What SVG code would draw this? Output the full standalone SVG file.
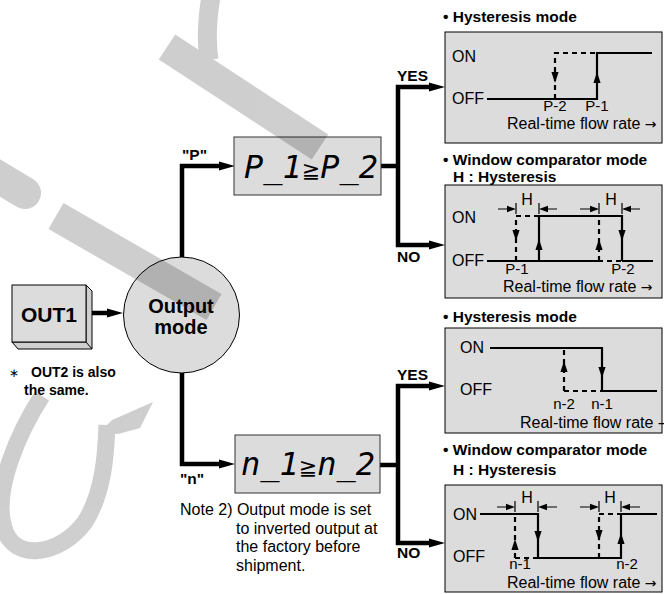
<svg xmlns="http://www.w3.org/2000/svg" width="664" height="594" viewBox="0 0 664 594">
<style>
text { font-family: "Liberation Sans", Arial, sans-serif; fill:#000; }
.b { font-weight: bold; }
.t15 { font-size: 16px; }
.lab { font-size: 15px; }
.tt { font-size: 15.5px; font-weight: bold; }
.ar { font-family: "DejaVu Sans", sans-serif; font-size: 14px; }
.conn { stroke:#000; stroke-width:4.5; fill:none; stroke-linejoin:miter; }
.box { fill:#dcdcdc; stroke:#000; stroke-width:1; }
.sig { stroke:#000; stroke-width:2.2; fill:none; }
.dash { stroke:#000; stroke-width:2.2; stroke-dasharray:5 4; fill:none; }
.dim { stroke:#000; stroke-width:1.2; fill:none; }
.seg { font-family: "DejaVu Sans Mono", monospace; font-style: italic; font-size: 32px; }
.ge { font-family: "DejaVu Sans", sans-serif; font-style: normal; font-size: 22px; }
.wm { stroke:#000; fill:none; }
</style>
<defs>
<path id="aUp" d="M0,-6 L3.6,5 L-3.6,5 Z"/>
<path id="aDn" d="M0,6 L3.6,-5 L-3.6,-5 Z"/>
<path id="aR" d="M0,0 L-9,-3.2 L-9,3.2 Z"/>
<path id="aL" d="M0,0 L9,-3.2 L9,3.2 Z"/>
<path id="bigR" d="M0,0 L-16,-4.5 L-16,4.5 Z"/>
</defs>

<g id="connectors">
<polyline class="conn" points="182,257 182,166 220,166"/>
<use href="#bigR" x="235" y="166"/>
<polyline class="conn" points="182,373 182,464 220,464"/>
<use href="#bigR" x="235" y="464"/>
<line class="conn" x1="92" y1="313" x2="108" y2="313"/>
<use href="#bigR" x="123" y="313"/>
<line class="conn" x1="381" y1="166" x2="398" y2="166"/>
<polyline class="conn" points="431,87 398,87 398,245 429,245"/>
<use href="#bigR" x="445" y="87"/>
<use href="#bigR" x="445" y="245"/>
<line class="conn" x1="380" y1="465" x2="398" y2="465"/>
<polyline class="conn" points="431,386 398,386 398,543 429,543"/>
<use href="#bigR" x="445" y="386"/>
<use href="#bigR" x="445" y="543"/>
<text class="tt" x="397" y="81">YES</text>
<text class="tt" x="397" y="262">NO</text>
<text class="tt" x="397" y="380">YES</text>
<text class="tt" x="397" y="558">NO</text>
<text class="tt" x="182" y="160" font-size="16">"P"</text>
<text class="tt" x="180" y="484" font-size="16">"n"</text>
</g>

<g id="out1">
<path d="M86,285 L92,291 L92,349 L18,349 L12,342 L86,342 Z" fill="#cfcfcf" stroke="#000" stroke-width="1"/>
<line x1="86" y1="342" x2="92" y2="349" stroke="#000" stroke-width="1"/>
<rect class="box" x="12" y="285" width="74" height="57"/>
<text class="b" x="49" y="322" font-size="21" text-anchor="middle">OUT1</text>
</g>

<g id="note1">
<text x="9" y="377" font-size="12" fill="#555">∗</text>
<text class="b" x="31" y="377" font-size="14">OUT2 is also</text>
<text class="b" x="24" y="395" font-size="14">the same.</text>
</g>

<g id="output-mode">
<circle class="box" cx="181.5" cy="315" r="58"/>
<text class="b" x="181" y="313" font-size="20" text-anchor="middle">Output</text>
<text class="b" x="181" y="334" font-size="20" text-anchor="middle">mode</text>
</g>

<g id="p-box">
<rect x="234" y="137" width="147" height="58" fill="#dcdcdc" stroke="#333" stroke-width="1"/>
<text class="seg" x="311" y="178" text-anchor="middle">P_1<tspan class="ge">≧</tspan>P_2</text>
</g>

<g id="n-box">
<rect x="235" y="435" width="145" height="58" fill="#dcdcdc" stroke="#333" stroke-width="1"/>
<text class="seg" x="308" y="475" text-anchor="middle">n_1<tspan class="ge">≧</tspan>n_2</text>
</g>

<g id="note2">
<text class="t15" x="180" y="515">Note 2) Output mode is set</text>
<text class="t15" x="236" y="534">to inverted output at</text>
<text class="t15" x="236" y="552">the factory before</text>
<text class="t15" x="236" y="571">shipment.</text>
</g>

<g id="p-hysteresis">
<text class="tt" x="443" y="22">• Hysteresis mode</text>
<rect class="box" x="445" y="32" width="217" height="111"/>
<text class="t15" x="452" y="62">ON</text>
<text class="t15" x="452" y="104">OFF</text>
<path class="sig" d="M487,99 H597 V53 H652"/>
<path class="dash" d="M555,99 V53 H597"/>
<use href="#aDn" x="555" y="77"/>
<use href="#aUp" x="597" y="78"/>
<text class="lab" x="555" y="111" text-anchor="middle">P-2</text>
<text class="lab" x="597" y="111" text-anchor="middle">P-1</text>
<text class="t15" x="507" y="129">Real-time flow rate <tspan class="ar">→</tspan></text>
</g>

<g id="p-window">
<text class="tt" x="443" y="165">• Window comparator mode</text>
<text class="tt" x="453" y="182">H : Hysteresis</text>
<rect class="box" x="445" y="185" width="217" height="113"/>
<text class="t15" x="452" y="223">ON</text>
<text class="t15" x="452" y="266">OFF</text>
<path class="sig" d="M487,261 H598 M622,261 H653"/>
<path class="dash" d="M598,261 H622"/>
<path class="dash" d="M516,261 V216 H539"/>
<path class="sig" d="M539,261 V216 H622 V261"/>
<path class="dash" d="M599,261 V216"/>
<use href="#aDn" x="516" y="235"/>
<use href="#aUp" x="539" y="245"/>
<use href="#aUp" x="599" y="245"/>
<use href="#aDn" x="622" y="235"/>
<path class="dim" d="M516,203 V214 M539,203 V214 M599,203 V214 M622,203 V214 M498,209 H508 M557,209 H547 M580,209 H591 M640,209 H630"/>
<use href="#aR" x="516" y="209"/>
<use href="#aL" x="539" y="209"/>
<use href="#aR" x="599" y="209"/>
<use href="#aL" x="622" y="209"/>
<text class="t15" x="527" y="205" text-anchor="middle">H</text>
<text class="t15" x="611" y="205" text-anchor="middle">H</text>
<text class="lab" x="517" y="274" text-anchor="middle">P-1</text>
<text class="lab" x="623" y="274" text-anchor="middle">P-2</text>
<text class="t15" x="503" y="292">Real-time flow rate <tspan class="ar">→</tspan></text>
</g>

<g id="n-hysteresis">
<text class="tt" x="443" y="322">• Hysteresis mode</text>
<rect class="box" x="445" y="328" width="217" height="105"/>
<text class="t15" x="460" y="353">ON</text>
<text class="t15" x="460" y="395">OFF</text>
<path class="sig" d="M490,348 H602 V391 H657"/>
<path class="dash" d="M564,391 V348 M564,391 H602"/>
<use href="#aUp" x="564" y="367"/>
<use href="#aDn" x="602" y="372"/>
<text class="lab" x="564" y="409" text-anchor="middle">n-2</text>
<text class="lab" x="602" y="409" text-anchor="middle">n-1</text>
<text class="t15" x="520" y="428">Real-time flow rate <tspan class="ar">→</tspan></text>
</g>

<g id="n-window">
<text class="tt" x="443" y="455">• Window comparator mode</text>
<text class="tt" x="453" y="475">H : Hysteresis</text>
<rect class="box" x="445" y="485" width="217" height="107"/>
<text class="t15" x="453" y="520">ON</text>
<text class="t15" x="453" y="562">OFF</text>
<path class="sig" d="M480,514 H538 V558 H621 V514 H657"/>
<path class="dash" d="M515,558 V514 M515,558 H538 M599,558 V514 M599,514 H621"/>
<use href="#aUp" x="515" y="545"/>
<use href="#aDn" x="538" y="536"/>
<use href="#aDn" x="599" y="535"/>
<use href="#aUp" x="621" y="539"/>
<path class="dim" d="M515,501 V512 M538,501 V512 M599,501 V512 M621,501 V512 M497,507 H507 M557,507 H546 M580,507 H591 M640,507 H629"/>
<use href="#aR" x="515" y="507"/>
<use href="#aL" x="538" y="507"/>
<use href="#aR" x="599" y="507"/>
<use href="#aL" x="621" y="507"/>
<text class="t15" x="527" y="503" text-anchor="middle">H</text>
<text class="t15" x="610" y="503" text-anchor="middle">H</text>
<text class="lab" x="520" y="569" text-anchor="middle">n-1</text>
<text class="lab" x="627" y="569" text-anchor="middle">n-2</text>
<text class="t15" x="507" y="588">Real-time flow rate <tspan class="ar">→</tspan></text>
</g>

<g id="watermark" opacity="0.19">
<path class="wm" stroke-width="19" d="M211,-4 C207,20 206,40 209,60"/>
<path class="wm" stroke-width="30" d="M167,47 L320,147"/>
<path class="wm" stroke-width="32" stroke-linecap="round" d="M-30,160 L25,193"/>
<path class="wm" stroke-width="30" d="M56,216 L214,307"/>
<path class="wm" stroke-width="17" d="M42,396 C20,430 -8,490 4,528 C14,562 60,556 85,522 C104,492 106,452 107,425"/>
<path d="M100,432 L112,420 L153,402 L140,428 L118,434 Z" fill="#000"/>
</g>
</svg>
